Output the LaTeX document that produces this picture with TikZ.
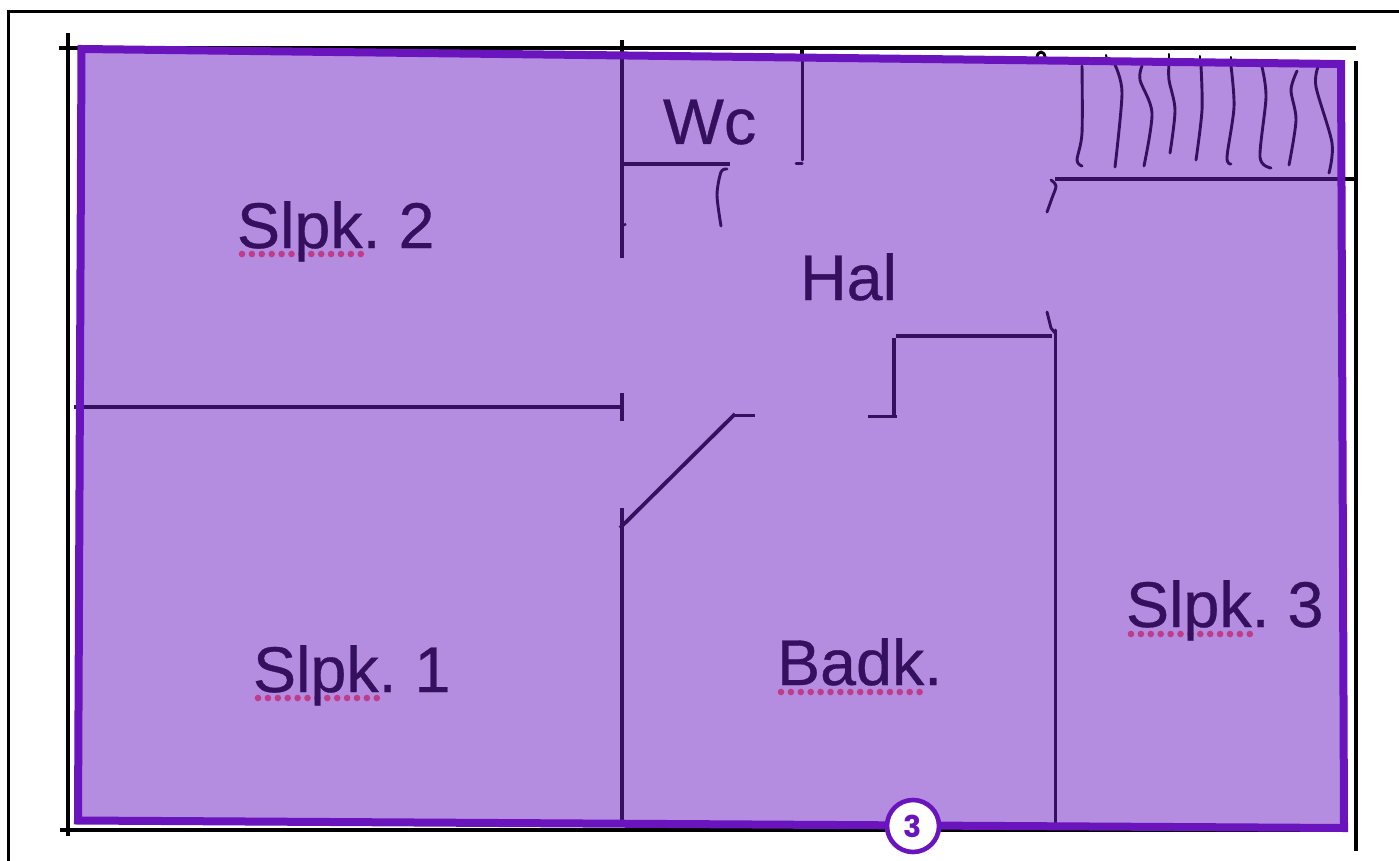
\documentclass[tikz,border=0pt]{standalone}
\usepackage{fontspec}
\setmainfont{Liberation Sans}[RawFeature={embolden=0.5}]
\newfontfamily\badgefont{Poppins}
\definecolor{zonefill}{HTML}{B48CE0}
\definecolor{zoneedge}{HTML}{6A14BE}
\definecolor{wallink}{HTML}{35105F}
\definecolor{spell}{HTML}{BE3C88}
\tikzset{
  frameline/.style={black,line width=3pt},
  plan/.style={black,line width=3.8pt},
  wall/.style={wallink,line width=3.8pt},
  thin wall/.style={wallink,line width=3pt,line cap=round},
  squiggle/.style={wallink,line width=2.9pt,line cap=round,line join=round},
  label/.style={text=wallink,anchor=base west,inner sep=0pt,outer sep=0pt,font=\frenchspacing\fontsize{64.6}{70}\selectfont},
  spelling/.style={spell,line width=6.6pt,line cap=round,dash pattern=on 0pt off 9.9pt},
  badge/.style={circle,draw=zoneedge,line width=4.6pt,fill=white,text=zoneedge,minimum size=52pt,inner sep=0pt,font=\badgefont\bfseries\fontsize{30}{30}\selectfont}
}
\begin{document}
\begin{tikzpicture}[x=1pt,y=-1pt]
\useasboundingbox (0,0) rectangle (1399,861);
\fill[white] (0,0) rectangle (1399,861);
% sheet frame
\draw[frameline] (8,861) -- (8,11.5) -- (1399,11.5);
% black plan outline
\draw[plan] (59,48) -- (1356,48);
\draw[plan] (68,33) -- (68,836);
\draw[plan] (60,830) -- (1345,830);
\draw[plan] (1356,61) -- (1356,851);
\draw[plan] (622,40) -- (622,52);
\draw[plan] (802,47) -- (802,58);
\draw[plan] (1330,179) -- (1354,179);
\draw[squiggle,black] (1037,58) .. controls (1037,50) and (1045,50) .. (1045,58);
\draw[squiggle,black,line width=2pt] (1106,55) -- (1107,59);
\draw[squiggle,black,line width=2pt] (1169,54) -- (1169,59);
\draw[squiggle,black,line width=2pt] (1200,56) -- (1200,60);
\draw[squiggle,black,line width=2pt] (1231,57) -- (1231,61);
% highlighted zone
\fill[zonefill] (81.5,49) -- (1341,64) -- (1344,828) -- (78,820.5) -- cycle;
% walls
\draw[wall] (622,55) -- (622,258);
\draw[wall,line width=2.4pt] (622,226) -- (626,224);
\draw[wall] (622,164) -- (730,164);
\draw[wall] (74,407) -- (622,407);
\draw[wall] (622,393) -- (622,421);
\draw[wall] (620,528) -- (735,414);
\draw[wall] (733,415.5) -- (755,415.5);
\draw[wall] (622,508) -- (622,822);
\draw[thin wall] (802,55) -- (802,160);
\draw[thin wall] (796,164) -- (802,164);
\draw[squiggle] plot[smooth] coordinates {(727,169) (721,172) (717,195) (721,226)};
\draw[wall] (1055,179) -- (1340,179);
\draw[squiggle] plot[smooth] coordinates {(1051,180) (1056,186) (1052,198) (1047,212)};
\draw[wall] (896,336) -- (1052,336);
\draw[wall] (894,338) -- (894,417);
\draw[wall] (868,416.5) -- (897,416.5);
\draw[thin wall] (1055,330) -- (1055,823);
\draw[squiggle] (1047,312) -- (1051,328) -- (1055,333);
% staircase squiggles
\draw[squiggle] plot[smooth] coordinates {(1082,66) (1082,133) (1077,160) (1082,166)};
\draw[squiggle] plot[smooth] coordinates {(1115,65) (1122,93) (1115,167)};
\draw[squiggle] plot[smooth] coordinates {(1142,66) (1140,80) (1152,113) (1144,166)};
\draw[squiggle] plot[smooth] coordinates {(1169,63) (1169,80) (1175,110) (1170,153)};
\draw[squiggle] plot[smooth] coordinates {(1201,66) (1202,110) (1196,160)};
\draw[squiggle] plot[smooth] coordinates {(1231,66) (1234,107) (1227,157) (1231,164)};
\draw[squiggle] plot[smooth] coordinates {(1262,67) (1266,97) (1260,157) (1271,168)};
\draw[squiggle] plot[smooth] coordinates {(1297,71) (1291,90) (1296,120) (1289,165)};
\draw[squiggle] plot[smooth] coordinates {(1318,67) (1316,87) (1332,143) (1329,173)};
% zone outline
\draw[zoneedge,line width=8pt,miter limit=10] (81.5,49) -- (1341,64) -- (1344,828) -- (78,820.5) -- cycle;
% spelling marks
\draw[spelling] (242,254) -- (361.5,254);
\draw[spelling] (258,698) -- (377.5,698);
\draw[spelling] (1131,634) -- (1250.5,634);
\draw[spelling] (781,692) -- (920.5,692);
% labels
\node[label] (wc) at (663,144) {Wc};
\node[label] (slpk2) at (237,248) {Slpk. 2};
\node[label] (hal) at (800,300) {Hal};
\node[label] (slpk1) at (253,692) {Slpk. 1};
\node[label] (slpk3) at (1126,627) {Slpk. 3};
\node[label] (badk) at (777,685) {Badk.};
% badge
\node[badge] (step3) at (913,826) {3};
\end{tikzpicture}
\end{document}
